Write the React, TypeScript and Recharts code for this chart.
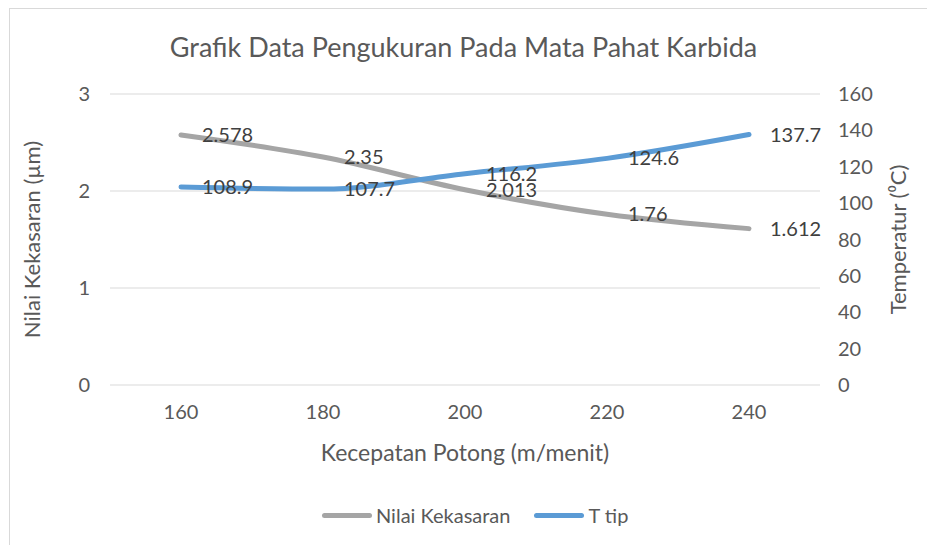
import React from 'react';
import { LineChart, Line, XAxis, YAxis, CartesianGrid, LabelList } from 'recharts';

const speeds = [160, 180, 200, 220, 240];
const roughness = [2.578, 2.35, 2.013, 1.76, 1.612];
const tipTemp = [108.9, 107.7, 116.2, 124.6, 137.7];
const leftTicks = [0, 1, 2, 3];
const rightTicks = [0, 20, 40, 60, 80, 100, 120, 140, 160];

const FONT = 'Lato, "Open Sans", sans-serif';
const TEXT = '#595959';
const GRAY = '#A5A5A5';
const BLUE = '#5B9BD5';

const data = speeds.map((s, i) => ({
  speed: s,
  kekasaran: roughness[i],
  tip: tipTemp[i],
}));

// labels sit to the right of each point, like Excel's "Right" position
const rightLabel = (props: any) => {
  const { x, y, value } = props;
  return (
    <text x={x + 21} y={y} dy="0.35em" fontSize={20} fill="#404040" fontFamily={FONT}>
      {value}
    </text>
  );
};

const legendItems = [
  { name: 'Nilai Kekasaran', color: GRAY },
  { name: 'T tip', color: BLUE },
];

export default function App() {
  return (
    <div style={{ position: 'absolute', left: 0, top: 0, width: 927, height: 545, background: '#fff', overflow: 'hidden' }}>
      <div style={{ position: 'absolute', left: 9, top: 8, width: 940, height: 560, border: '1px solid #D9D9D9', boxSizing: 'border-box' }} />
      <div
        style={{
          position: 'absolute',
          top: 30,
          left: 0,
          width: 927,
          textAlign: 'center',
          fontFamily: FONT,
          fontSize: 27,
          color: TEXT,
        }}
      >
        Grafik Data Pengukuran Pada Mata Pahat Karbida
      </div>
      <div style={{ position: 'absolute', left: 0, top: 0 }}>
        <LineChart width={927} height={545} data={data} margin={{ top: 94, right: 47, bottom: 130, left: 50 }}>
          <CartesianGrid vertical={false} stroke="#D9D9D9" yAxisId="left" />
          <XAxis
            dataKey="speed"
            axisLine={false}
            tickLine={false}
            height={30}
            padding={{ left: 71, right: 71 }}
            tickMargin={14}
            tick={{ fill: TEXT, fontSize: 20, fontFamily: FONT }}
            label={{ value: 'Kecepatan Potong (m/menit)', position: 'insideBottom', offset: -46, fill: TEXT, fontSize: 23, fontFamily: FONT }}
          />
          <YAxis
            yAxisId="left"
            domain={[0, 3]}
            ticks={leftTicks}
            axisLine={false}
            tickLine={false}
            width={60}
            tickMargin={14}
            tick={{ fill: TEXT, fontSize: 20, fontFamily: FONT }}
            label={{ value: 'Nilai Kekasaran (µm)', angle: -90, position: 'insideLeft', offset: -18, style: { textAnchor: 'middle' }, fill: TEXT, fontSize: 22, fontFamily: FONT }}
          />
          <YAxis
            yAxisId="right"
            orientation="right"
            domain={[0, 160]}
            ticks={rightTicks}
            axisLine={false}
            tickLine={false}
            width={60}
            tickMargin={12}
            tick={{ fill: TEXT, fontSize: 20, fontFamily: FONT, textAnchor: 'start' }}
            label={{ value: 'Temperatur (⁰C)', angle: -90, position: 'insideRight', offset: -18, style: { textAnchor: 'middle' }, fill: TEXT, fontSize: 22, fontFamily: FONT }}
          />
          <Line
            yAxisId="left"
            type="monotone"
            dataKey="kekasaran"
            name="Nilai Kekasaran"
            stroke={GRAY}
            strokeWidth={5}
            strokeLinecap="round"
            dot={false}
            isAnimationActive={false}
          >
            <LabelList dataKey="kekasaran" content={rightLabel} />
          </Line>
          <Line
            yAxisId="right"
            type="monotone"
            dataKey="tip"
            name="T tip"
            stroke={BLUE}
            strokeWidth={5}
            strokeLinecap="round"
            dot={false}
            isAnimationActive={false}
          >
            <LabelList dataKey="tip" content={rightLabel} />
          </Line>
        </LineChart>
      </div>
      <div
        style={{
          position: 'absolute',
          top: 503,
          left: 322,
          display: 'flex',
          alignItems: 'center',
          fontFamily: FONT,
          fontSize: 20,
          color: TEXT,
          whiteSpace: 'nowrap',
        }}
      >
        {legendItems.map((it) => (
          <div key={it.name} style={{ display: 'flex', alignItems: 'center', marginRight: 24 }}>
            <span style={{ display: 'inline-block', width: 50, height: 5, borderRadius: 3, background: it.color, marginRight: 4 }} />
            <span>{it.name}</span>
          </div>
        ))}
      </div>
    </div>
  );
}
